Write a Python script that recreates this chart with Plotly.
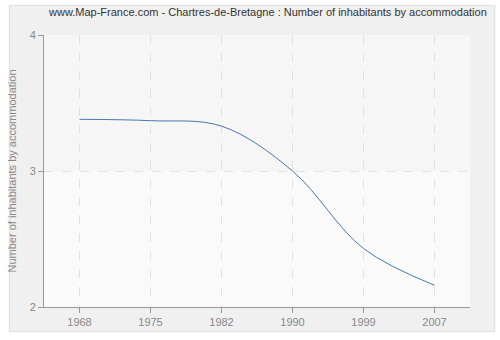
import plotly.graph_objects as go

years = ["1968", "1975", "1982", "1990", "1999", "2007"]
values = [3.38, 3.37, 3.33, 3.0, 2.43, 2.16]
y_ticks = [2, 3, 4]

W, H = 500, 340
L, R, T, B = 40, 30, 35, 30
pw, ph = W - L - R, H - T - B

def px_x(p):
    return (p - L) / pw

def px_y(p):
    return (H - B - p) / ph

fig = go.Figure()
fig.add_trace(go.Scatter(
    x=years, y=values, mode="lines",
    line=dict(color="#4a76a8", width=1, shape="spline", smoothing=1.0),
    hoverinfo="skip", showlegend=False,
))

x0, x1, y0, y1 = px_x(5), px_x(495), px_y(335), px_y(5)
fig.add_shape(type="rect", xref="paper", yref="paper", x0=x0, x1=x1, y0=y0, y1=y1,
              fillcolor="#f0f0f0", line=dict(color="#dddddd", width=1), layer="below")
fig.add_shape(type="rect", xref="paper", yref="paper", x0=0, x1=1, y0=0, y1=1,
              fillcolor="#fafafa", line=dict(width=0), layer="below")
fig.add_shape(type="rect", xref="paper", yref="y", x0=0, x1=1, y0=3, y1=4,
              fillcolor="#f6f6f6", line=dict(width=0), layer="below")

fig.update_layout(
    width=W, height=H,
    margin=dict(l=L, r=R, t=T, b=B),
    paper_bgcolor="white", plot_bgcolor="rgba(0,0,0,0)",
    title=dict(text="www.Map-France.com - Chartres-de-Bretagne : Number of inhabitants by accommodation",
               x=(266 - L) / pw, xanchor="center", xref="paper", y=1 - 12 / H, yanchor="middle",
               font=dict(family="Liberation Sans", size=11, color="#333333")),
    font=dict(family="Liberation Sans", size=11, color="#888888"),
)
fig.update_xaxes(
    type="category", range=[-0.5, 5.5],
    showline=True, linecolor="#999999", linewidth=1,
    ticks="outside", ticklen=5, tickcolor="#999999",
    showgrid=True, gridcolor="#e2e2e2", griddash="dash", gridwidth=1,
    tickfont=dict(size=11, color="#888888"), zeroline=False,
)
fig.update_yaxes(
    range=[2, 4], tickvals=y_ticks, ticktext=[str(v) for v in y_ticks],
    showline=True, linecolor="#999999", linewidth=1,
    ticks="outside", ticklen=5, tickcolor="#999999",
    showgrid=True, gridcolor="#e2e2e2", griddash="dash", gridwidth=1,
    tickfont=dict(size=11, color="#888888"), zeroline=False,
    title=dict(text="Number of inhabitants by accommodation", font=dict(size=11, color="#888888"), standoff=10),
)

fig.write_html("out.html")
